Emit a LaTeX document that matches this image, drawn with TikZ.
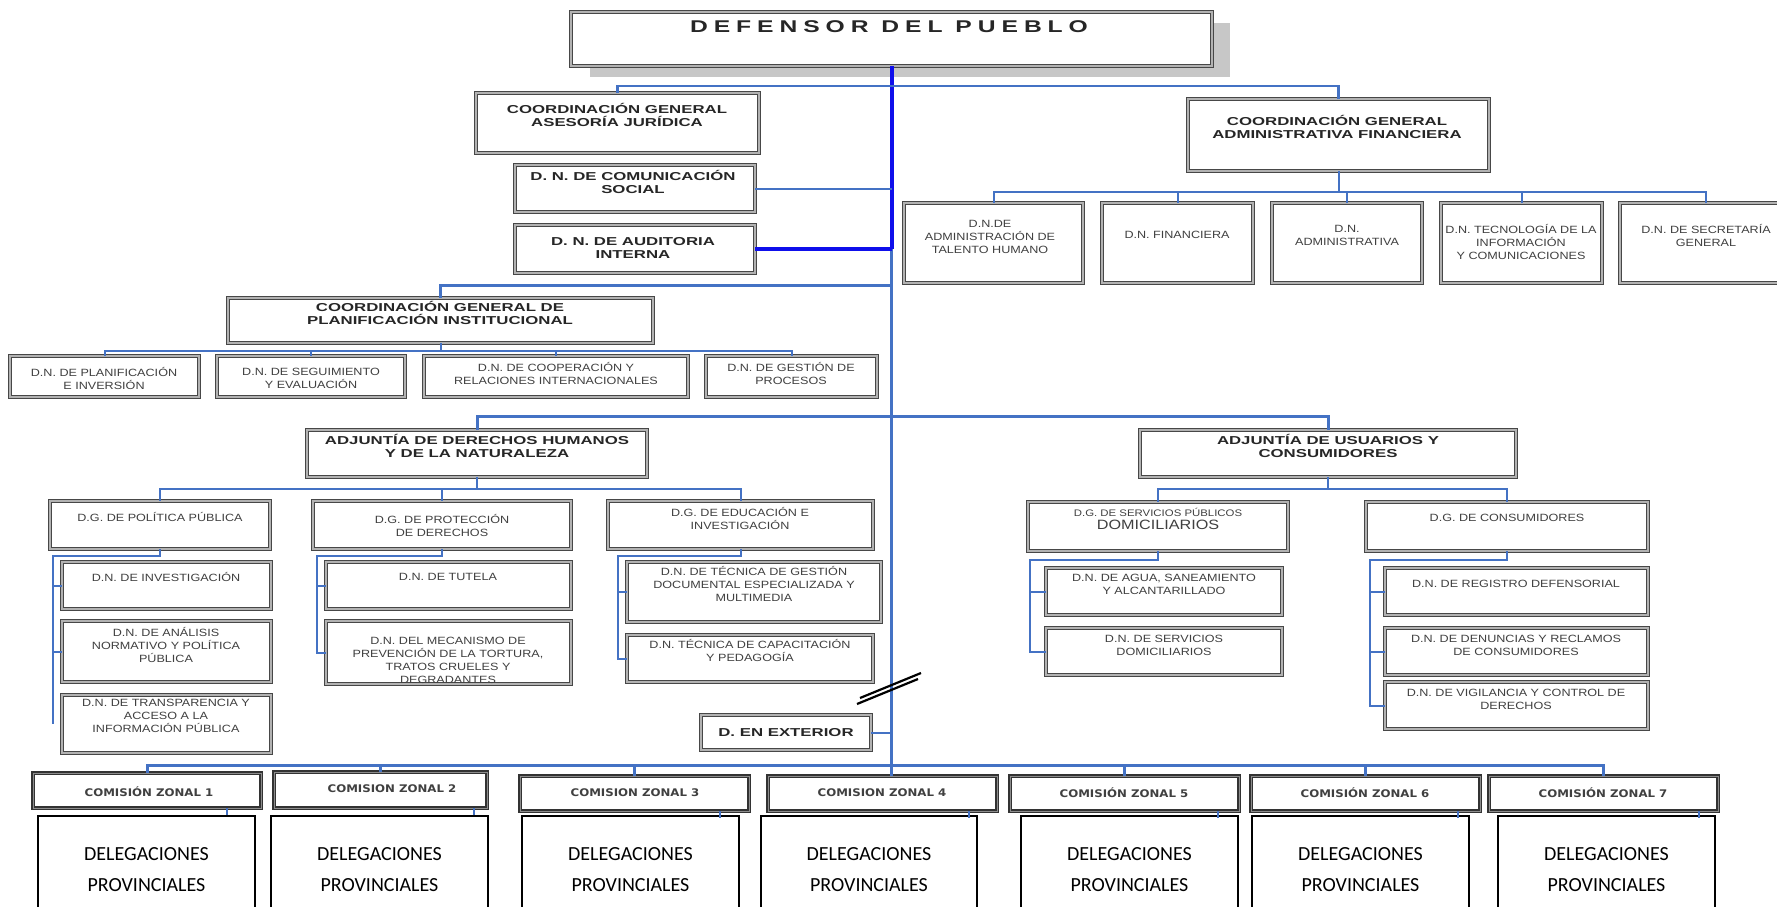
\documentclass[tikz,border=0pt]{standalone}
\usepackage{fontspec}
\setmainfont{Liberation Sans}
\newfontfamily\hdf[FakeStretch=1.46]{Liberation Sans}
\newfontfamily\deff[FakeStretch=1.45,LetterSpace=35]{Liberation Sans}
\newfontfamily\smf[FakeStretch=1.2]{Liberation Sans}
\newfontfamily\znf[FakeStretch=1.12]{DejaVu Sans}
\newfontfamily\dlf{Carlito}
\definecolor{dkb}{RGB}{15,15,235}
\definecolor{lb}{RGB}{68,114,196}
\tikzset{
 bx/.style={draw=black!72, line width=0.95pt, double=black!30, double distance=1.7pt, fill=white, inner sep=0pt, outer sep=0pt},
 zbx/.style={draw=black!80, line width=1.1pt, double=black!45, double distance=1pt, fill=white, inner sep=0pt, outer sep=0pt},
 dbx/.style={draw=black, line width=1.3pt, fill=white, inner sep=0pt, outer sep=0pt},
 deft/.style={font=\deff\bfseries\fontsize{17}{18}\selectfont, text=black!85, inner sep=0pt},
 hd/.style={font=\hdf\bfseries\fontsize{11.5}{13.5}\selectfont, text=black!85, align=center, inner sep=0pt},
 sm/.style={font=\smf\fontsize{10.5}{13}\selectfont, text=black!75, align=center, inner sep=0pt},
 zn/.style={font=\znf\bfseries\fontsize{10.5}{12}\selectfont, text=black!75, inner sep=0pt},
 dl/.style={font=\dlf\fontsize{20}{31}\selectfont, align=center, inner sep=0pt},
 ln/.style={draw=lb, line width=2pt},
 lnb/.style={draw=lb, line width=3pt},
 dk/.style={draw=dkb, line width=4pt},
}
\newcommand\mkbox[6]{\node[#6, minimum width={#4-#2}, minimum height={#5-#3}] (#1) at ({(#2+#4)/2},{(#3+#5)/2}) {};}
\newcommand\lbtext[5]{\node[#4] (#1) at (#2,#3) {#5};}
\begin{document}
\begin{tikzpicture}[x=1pt,y=-1pt]
\useasboundingbox (0,0) rectangle (1777,906);
\clip (0,0) rectangle (1777,906);
\fill[white] (0,0) rectangle (1777,906);
% top
\fill[black!22] (590,23) rectangle (1230,77);
\mkbox{def}{571}{12}{1212}{66}{bx, line width=1.2pt, double distance=2pt}
\mkbox{ase}{476}{93}{759}{153}{bx}
\mkbox{com}{515}{165}{755}{212}{bx}
\mkbox{aud}{515}{225}{755}{273}{bx}
\mkbox{adm}{1188}{99}{1489}{171}{bx}
\mkbox{th}{904}{203}{1083}{283}{bx}
\mkbox{fin}{1102}{203}{1253}{283}{bx}
\mkbox{adm2}{1272}{203}{1422}{283}{bx}
\mkbox{tic}{1441}{203}{1602}{283}{bx}
\mkbox{sec}{1620}{203}{1792}{283}{bx}
\mkbox{plan}{228}{298}{653}{343}{bx}
\mkbox{pinv}{10}{356}{199}{397}{bx}
\mkbox{seg}{217}{356}{405}{397}{bx}
\mkbox{coop}{424}{356}{688}{397}{bx}
\mkbox{ges}{706}{356}{877}{397}{bx}
\mkbox{ddhh}{307}{430}{647}{477}{bx}
\mkbox{usu}{1140}{430}{1516}{477}{bx}
\mkbox{pp}{50}{501}{270}{549}{bx}
\mkbox{prot}{313}{501}{571}{549}{bx}
\mkbox{edu}{608}{501}{873}{549}{bx}
\mkbox{inv}{62}{562}{271}{609}{bx}
\mkbox{ana}{62}{621}{271}{682}{bx}
\mkbox{trans}{62}{695}{271}{753}{bx}
\mkbox{tut}{326}{562}{571}{609}{bx}
\mkbox{mec}{326}{621}{571}{684}{bx}
\mkbox{tec}{627}{562}{881}{622}{bx}
\mkbox{cap}{627}{635}{873}{682}{bx}
\mkbox{ext}{701}{715}{871}{750}{bx}
\mkbox{serv}{1028}{502}{1288}{551}{bx}
\mkbox{cons}{1366}{502}{1648}{551}{bx}
\mkbox{agua}{1046}{568}{1282}{615}{bx}
\mkbox{sdom}{1046}{628}{1282}{675}{bx}
\mkbox{reg}{1385}{568}{1648}{615}{bx}
\mkbox{den}{1385}{628}{1648}{675}{bx}
\mkbox{vig}{1385}{682}{1648}{729}{bx}
\mkbox{z1}{33}{773}{261}{808}{zbx}
\mkbox{z2}{274}{772}{487}{808}{zbx}
\mkbox{z3}{520}{776}{749}{811}{zbx}
\mkbox{z4}{768}{776}{997}{811}{zbx}
\mkbox{z5}{1010}{776}{1239}{811}{zbx}
\mkbox{z6}{1251}{776}{1480}{811}{zbx}
\mkbox{z7}{1489}{776}{1718}{811}{zbx}
\mkbox{d1}{38}{816}{255}{925}{dbx}
\mkbox{d2}{271}{816}{488}{925}{dbx}
\mkbox{d3}{522}{816}{739}{925}{dbx}
\mkbox{d4}{761}{816}{977}{925}{dbx}
\mkbox{d5}{1021}{816}{1238}{925}{dbx}
\mkbox{d6}{1252}{816}{1469}{925}{dbx}
\mkbox{d7}{1498}{816}{1715}{925}{dbx}
% texts
\lbtext{defT}{889}{27}{deft}{DEFENSOR DEL PUEBLO}
\lbtext{aseT}{617}{115}{hd}{COORDINACIÓN GENERAL\\ASESORÍA JURÍDICA}
\lbtext{comT}{633}{182}{hd}{D. N. DE COMUNICACIÓN\\SOCIAL}
\lbtext{audT}{633}{248}{hd}{D. N. DE AUDITORIA\\INTERNA}
\lbtext{admT}{1337}{127}{hd}{COORDINACIÓN GENERAL\\ADMINISTRATIVA FINANCIERA}
\lbtext{thT}{990}{237}{sm}{D.N.DE\\ADMINISTRACIÓN DE\\TALENTO HUMANO}
\lbtext{finT}{1177}{235}{sm}{D.N. FINANCIERA}
\lbtext{adm2T}{1347}{235}{sm}{D.N.\\ADMINISTRATIVA}
\lbtext{ticT}{1521}{242}{sm}{D.N. TECNOLOGÍA DE LA\\INFORMACIÓN\\Y COMUNICACIONES}
\lbtext{secT}{1706}{235}{sm}{D.N. DE SECRETARÍA\\GENERAL}
\lbtext{planT}{440}{313}{hd}{COORDINACIÓN GENERAL DE\\PLANIFICACIÓN INSTITUCIONAL}
\lbtext{pinvT}{104}{378}{sm}{D.N. DE PLANIFICACIÓN\\E INVERSIÓN}
\lbtext{segT}{311}{378}{sm}{D.N. DE SEGUIMIENTO\\Y EVALUACIÓN}
\lbtext{coopT}{556}{373}{sm}{D.N. DE COOPERACIÓN Y\\RELACIONES INTERNACIONALES}
\lbtext{gesT}{791}{373}{sm}{D.N. DE GESTIÓN DE\\PROCESOS}
\lbtext{ddhhT}{477}{446}{hd}{ADJUNTÍA DE DERECHOS HUMANOS\\Y DE LA NATURALEZA}
\lbtext{usuT}{1328}{446}{hd}{ADJUNTÍA DE USUARIOS Y\\CONSUMIDORES}
\lbtext{ppT}{160}{517}{sm}{D.G. DE POLÍTICA PÚBLICA}
\lbtext{protT}{442}{525}{sm}{D.G. DE PROTECCIÓN\\DE DERECHOS}
\lbtext{eduT}{740}{518}{sm}{D.G. DE EDUCACIÓN E\\INVESTIGACIÓN}
\lbtext{invT}{166}{577}{sm}{D.N. DE INVESTIGACIÓN}
\lbtext{anaT}{166}{645}{sm}{D.N. DE ANÁLISIS\\NORMATIVO Y POLÍTICA\\PÚBLICA}
\lbtext{transT}{166}{716}{sm}{D.N. DE TRANSPARENCIA Y\\ACCESO A LA\\INFORMACIÓN PÚBLICA}
\lbtext{tutT}{448}{577}{sm}{D.N. DE TUTELA}
\lbtext{mecT}{448}{660}{sm}{D.N. DEL MECANISMO DE\\PREVENCIÓN DE LA TORTURA,\\TRATOS CRUELES Y\\DEGRADANTES}
\lbtext{tecT}{754}{584}{sm}{D.N. DE TÉCNICA DE GESTIÓN\\DOCUMENTAL ESPECIALIZADA Y\\MULTIMEDIA}
\lbtext{capT}{750}{650}{sm}{D.N. TÉCNICA DE CAPACITACIÓN\\Y PEDAGOGÍA}
\lbtext{extT}{786}{733}{hd}{D. EN EXTERIOR}
\lbtext{servT}{1158}{519}{sm}{{\fontsize{9.5}{13}\selectfont D.G. DE SERVICIOS PÚBLICOS}\\{\fontsize{13.5}{15}\selectfont DOMICILIARIOS}}
\lbtext{consT}{1507}{518}{sm}{D.G. DE CONSUMIDORES}
\lbtext{aguaT}{1164}{584}{sm}{D.N. DE AGUA, SANEAMIENTO\\Y ALCANTARILLADO}
\lbtext{sdomT}{1164}{645}{sm}{D.N. DE SERVICIOS\\DOMICILIARIOS}
\lbtext{regT}{1516}{584}{sm}{D.N. DE REGISTRO DEFENSORIAL}
\lbtext{denT}{1516}{645}{sm}{D.N. DE DENUNCIAS Y RECLAMOS\\DE CONSUMIDORES}
\lbtext{vigT}{1516}{699}{sm}{D.N. DE VIGILANCIA Y CONTROL DE\\DERECHOS}
\lbtext{z1T}{149}{792}{zn}{COMISIÓN ZONAL 1}
\lbtext{z2T}{392}{789}{zn}{COMISION ZONAL 2}
\lbtext{z3T}{635}{793}{zn}{COMISION ZONAL 3}
\lbtext{z4T}{882}{793}{zn}{COMISION ZONAL 4}
\lbtext{z5T}{1124}{793}{zn}{COMISIÓN ZONAL 5}
\lbtext{z6T}{1365}{793}{zn}{COMISIÓN ZONAL 6}
\lbtext{z7T}{1603}{793}{zn}{COMISIÓN ZONAL 7}
\foreach \d in {1,...,7}{\node[dl] (d\d T) at ([yshift=-53.5pt]d\d.north) {DELEGACIONES\\PROVINCIALES};}
% connectors
\draw[lnb] (def.south |- aud.east) -- (def.south |- z4.north);
\draw[dk] (def.south) -- (def.south |- aud.east);
\draw[dk] (aud.east) -- (def.south |- aud.east);
\draw[ln, line width=2.5pt] (ase.north) -- ++(0,-7) -| (adm.north);
\draw[ln] (com.east) -- (def.south |- com.east);
\coordinate (jp) at (891,285);
\draw[lnb] (plan.north) |- (jp);
\foreach \c in {pinv,seg,coop,ges} \draw[ln] (plan.south) -- ++(0,8) -| (\c.north);
\foreach \c in {th,fin,adm2,tic,sec} \draw[ln] (adm.south) -- ++(0,21) -| (\c.north);
\coordinate (ja) at (891,416);
\draw[lnb] (ddhh.north) |- (ja);
\draw[lnb] (usu.north) |- (ja);
\foreach \c in {pp,prot,edu} \draw[ln] (ddhh.south) -- ++(0,12) -| (\c.north);
\foreach \c in {serv,cons} \draw[ln] (usu.south) -- ++(0,12) -| (\c.north);
\coordinate (s1) at (53,556);
\draw[ln] (pp.south) |- (s1) |- (inv.west);
\draw[ln] (s1) |- (ana.west);
\draw[ln] (s1) -- (s1 |- trans.west);
\coordinate (s2) at (317,556);
\draw[ln] (prot.south) |- (s2) |- (tut.west);
\draw[ln] (s2) |- (mec.west);
\coordinate (s3) at (618,556);
\draw[ln] (edu.south) |- (s3) |- (tec.west);
\draw[ln] (s3) |- (cap.west);
\coordinate (s4) at (1030,560);
\draw[ln] (serv.south) |- (s4) |- (agua.west);
\draw[ln] (s4) |- (sdom.west);
\coordinate (s5) at (1370,560);
\draw[ln] (cons.south) |- (s5) |- (reg.west);
\draw[ln] (s5) |- (den.west);
\draw[ln] (s5) |- (vig.west);
\draw[ln] (ext.east) -- (def.south |- ext.east);
\draw[black, line width=2.2pt] (857,704) -- (918,679);
\draw[black, line width=2.2pt] (860,698) -- (921,673);
\coordinate (zb) at (891,765);
\foreach \z in {1,2,3,5,6,7} \draw[lnb] (zb) -| (z\z.north);
\foreach \z/\o in {1/34,2/13,3/29,4/28,5/21,6/22,7/19} \draw[ln, line width=1.5pt] ([xshift=-\o pt]z\z.south east) -- ++(0,7);
\end{tikzpicture}
\end{document}
